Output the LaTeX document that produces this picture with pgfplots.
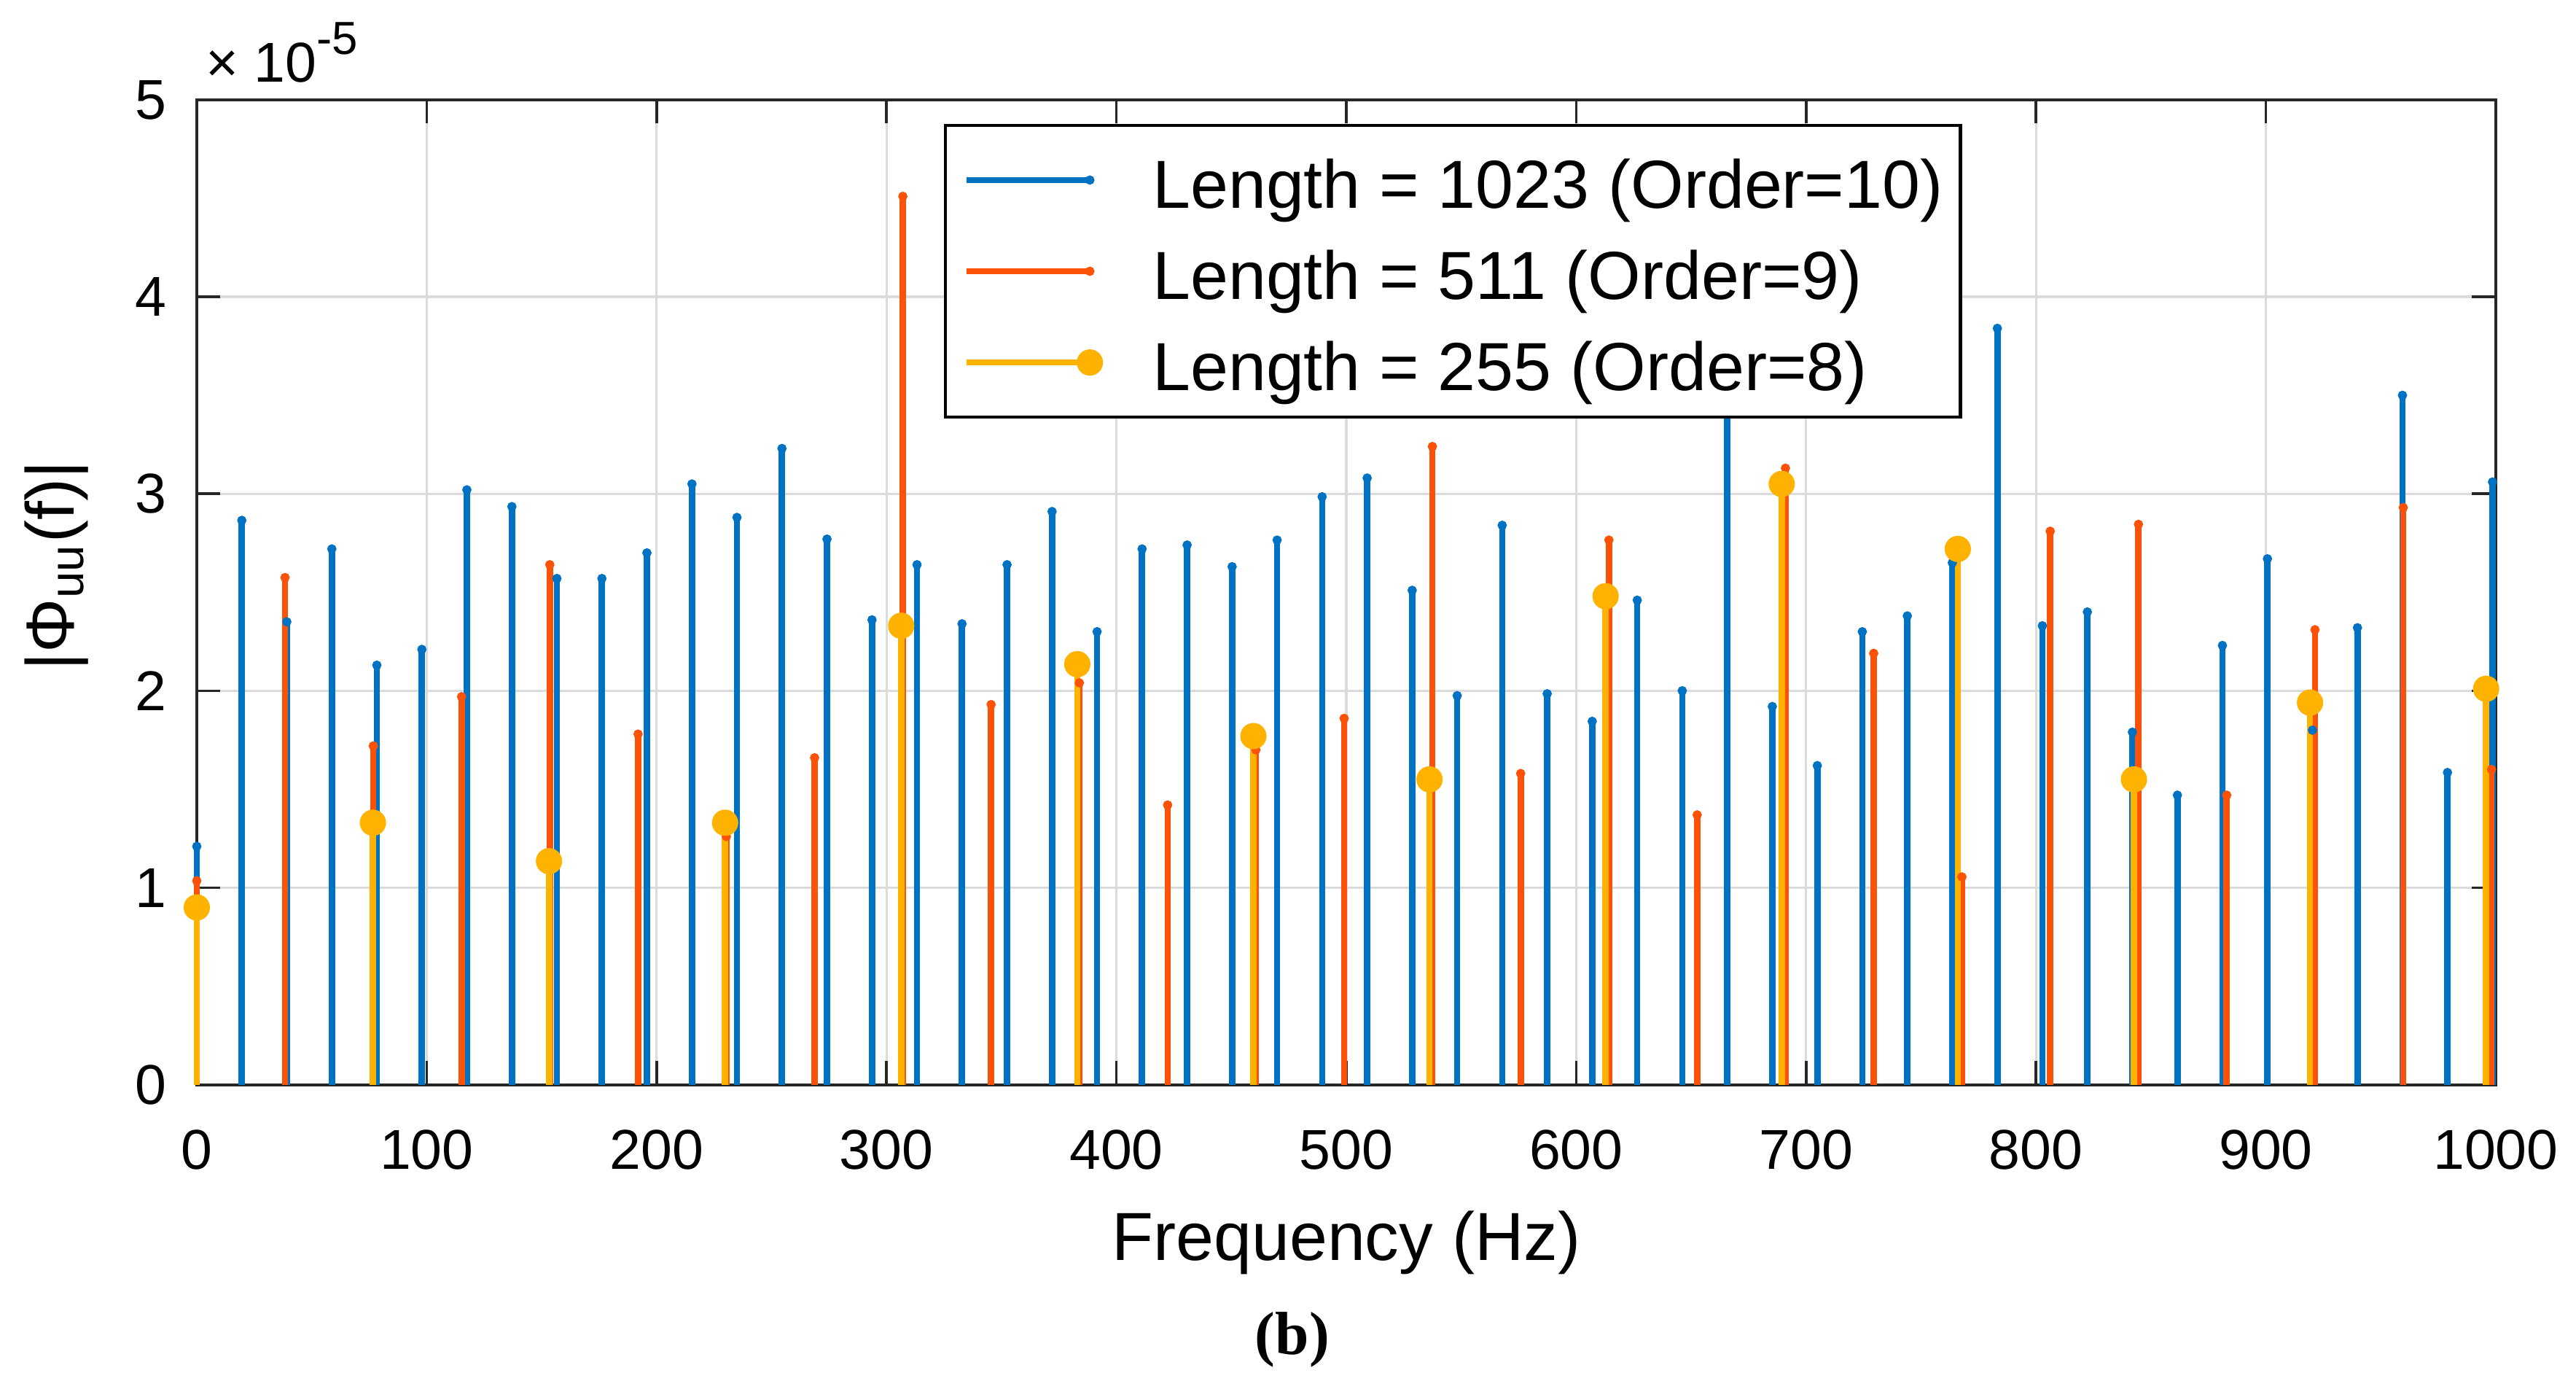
\documentclass[border=0pt]{standalone}
\usepackage{pgfplots}
\pgfplotsset{compat=1.18}
\usepackage{fontspec}
\setmainfont{Liberation Sans}
\newfontfamily\serifbf{Liberation Serif}
\definecolor{mblue}{RGB}{0,114,196}
\definecolor{morange}{RGB}{252,82,8}
\definecolor{myellow}{RGB}{255,178,0}
\pgfplotsset{
  stemleg/.style={legend image code/.code={
    \draw[##1] (0pt,0pt) -- (24pt,0pt);
    \draw[##1, only marks] plot coordinates {(24pt,0pt)};
    \path[draw=none,fill=none] (0pt,0pt) (36.2pt,0pt);
  }}
}
\begin{document}
\begin{tikzpicture}
\begin{axis}[
  width=446.2pt, height=191.1pt, scale only axis,
  xmin=0, xmax=1000, ymin=0, ymax=5,
  xtick={0,100,...,1000}, ytick={0,1,2,3,4,5},
  scaled ticks=false,
  /pgf/number format/1000 sep={},
  /pgf/number format/assume math mode=true,
  tick align=inside, tick pos=both, major tick length=4.6pt,
  grid=major, major grid style={color=black!14, line width=0.45pt},
  axis line style={color=black!85, line width=0.6pt},
  tick style={color=black!85, line width=0.5pt},
  ticklabel style={font=\fontsize{10.9}{12}\selectfont, inner sep=0pt},
  xticklabel style={yshift=-8.6pt},
  yticklabel style={xshift=-5.7pt},
  clip=false,
  xlabel={Frequency (Hz)},
  ylabel={|Φ\textsubscript{uu}(f)|},
  label style={font=\fontsize{13.2}{15}\selectfont},
  xlabel style={at={(axis description cs:0.5,-0.178)}, anchor=base},
  ylabel style={at={(axis description cs:-0.0533,0.527)}, anchor=base},
  legend cell align=left,
  legend style={at={(0.325,0.9756)}, anchor=north west, draw=black, line width=0.6pt,
    fill=white, inner xsep=3.4pt, inner ysep=2.4pt, row sep=1.3pt,
    font=\fontsize{13.2}{15}\selectfont,
    nodes={inner sep=0pt, text height=13.6pt, text depth=2.8pt}},
]
\addplot[ycomb, color=mblue, line width=1.23pt, mark=*, mark size=0.75pt,
  mark options={solid, line width=0.3pt}, stemleg] coordinates {
(0,1.21) (19.58,2.865) (39.16,2.35) (58.74,2.72) (78.32,2.13) (97.90,2.21)
(117.48,3.02) (137.06,2.935) (156.64,2.57) (176.22,2.57) (195.80,2.70)
(215.38,3.05) (234.96,2.88) (254.54,3.23) (274.12,2.77) (293.70,2.36)
(313.28,2.64) (332.86,2.34) (352.44,2.64) (372.02,2.91) (391.60,2.30)
(411.18,2.72) (430.76,2.74) (450.34,2.63) (469.92,2.765) (489.50,2.985)
(509.08,3.08) (528.66,2.51) (548.24,1.975) (567.82,2.84) (587.40,1.985)
(606.98,1.845) (626.56,2.46) (646.14,2.00) (665.72,3.75) (685.30,1.92)
(704.88,1.62) (724.46,2.30) (744.04,2.38) (763.62,2.65) (783.20,3.84)
(802.78,2.33) (822.36,2.40) (841.94,1.79) (861.52,1.47) (881.10,2.23)
(900.68,2.67) (920.26,1.80) (939.84,2.32) (959.42,3.50) (979.00,1.585)
(998.58,3.06)
};
\addlegendentry{Length = 1023 (Order=10)}
\addplot[ycomb, color=morange, line width=1.23pt, mark=*, mark size=0.75pt,
  mark options={solid, line width=0.3pt}, stemleg] coordinates {
(0,1.035) (38.39,2.575) (76.78,1.72) (115.17,1.97) (153.56,2.64) (191.95,1.78)
(230.34,1.26) (268.73,1.66) (307.12,4.51) (345.51,1.93) (383.90,2.04)
(422.29,1.42) (460.68,1.70) (499.07,1.86) (537.46,3.24) (575.85,1.58)
(614.24,2.765) (652.63,1.37) (691.02,3.13) (729.41,2.19) (767.80,1.055)
(806.19,2.81) (844.58,2.845) (882.97,1.47) (921.36,2.31) (959.75,2.93)
(998.14,1.60)
};
\addlegendentry{Length = 511 (Order=9)}
\addplot[ycomb, color=myellow, line width=1.23pt, mark=*, mark size=2.4pt,
  mark options={solid, line width=0.3pt}, stemleg] coordinates {
(0,0.90) (76.6,1.33) (153.2,1.135) (229.8,1.33) (306.4,2.33) (383.0,2.135)
(459.6,1.77) (536.2,1.55) (612.8,2.48) (689.4,3.05) (766.0,2.72)
(842.6,1.55) (919.2,1.94) (995.8,2.01)
};
\addlegendentry{Length = 255 (Order=8)}
\node[anchor=base west, inner sep=0pt, font=\fontsize{10.9}{12}\selectfont]
  at (rel axis cs:0.0035,1.0178) {×\hspace{3pt}10\raisebox{5.4pt}{\fontsize{9}{10}\selectfont -5}};
\node[anchor=base, inner sep=0pt, font=\serifbf\bfseries\fontsize{11.8}{13}\selectfont]
  at (rel axis cs:0.4765,-0.2739) {(b)};
\coordinate (BBsw) at (rel axis cs:-0.0856,-0.3005);
\coordinate (BBne) at (rel axis cs:1.0349,1.1014);
\end{axis}
\path[use as bounding box] (BBsw) rectangle (BBne);
\end{tikzpicture}
\end{document}
